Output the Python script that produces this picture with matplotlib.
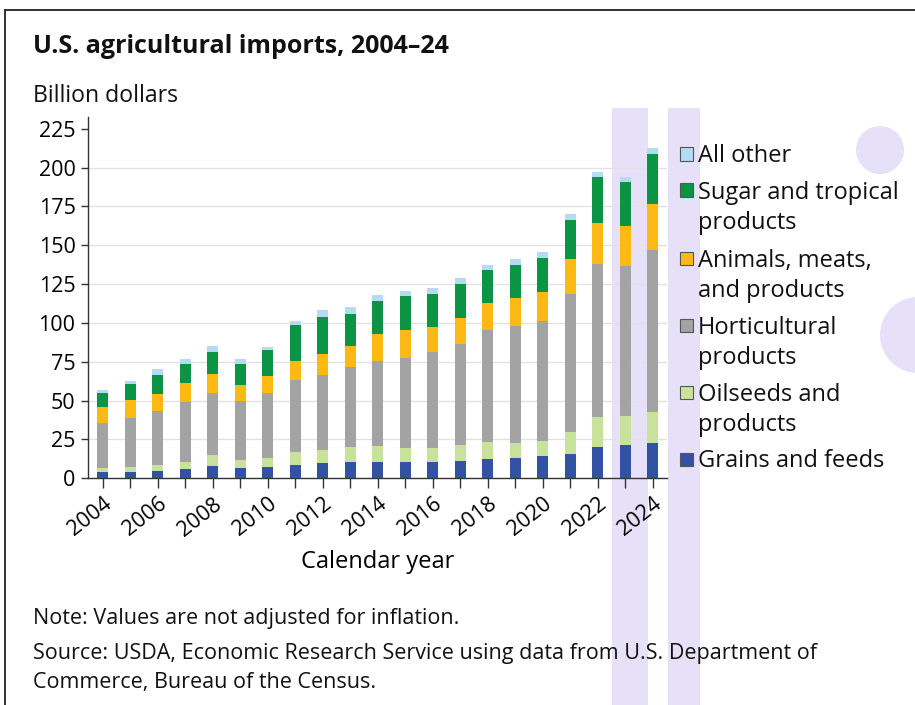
import matplotlib
matplotlib.use("Agg")
import matplotlib.pyplot as plt
from matplotlib.patches import Rectangle, Ellipse
import numpy as np

plt.rcParams['font.family'] = ['Open Sans', 'DejaVu Sans']

years = list(range(2004, 2025))
grains = [3.9, 4.1, 4.9, 5.8, 7.7, 6.9, 7.3, 8.4, 9.7, 10.7, 10.7, 10.7, 10.7, 11.4, 12.7, 12.9, 14.2, 15.9, 20.4, 21.2, 23.0]
oilseeds = [3.0, 3.2, 3.7, 4.9, 7.5, 5.1, 5.8, 8.8, 8.8, 9.3, 10.1, 8.6, 8.8, 10.1, 10.5, 9.6, 10.0, 13.9, 19.3, 18.7, 19.7]
horticultural = [28.9, 31.5, 34.7, 38.2, 39.7, 37.8, 41.8, 46.1, 48.0, 51.5, 54.5, 58.0, 61.6, 65.0, 72.5, 75.6, 77.3, 88.9, 98.5, 96.6, 104.5]
animals = [10.3, 11.6, 11.2, 12.3, 12.3, 10.1, 11.0, 12.2, 13.3, 13.5, 17.6, 18.4, 16.3, 16.5, 17.2, 18.0, 18.7, 22.5, 26.0, 26.2, 29.6]
sugar = [9.1, 10.5, 12.0, 12.2, 14.1, 13.5, 16.9, 23.0, 23.8, 20.8, 21.5, 21.7, 21.3, 22.1, 21.0, 21.5, 21.9, 25.1, 29.8, 27.9, 31.8]
other = [1.5, 1.8, 3.9, 3.4, 3.7, 3.2, 2.0, 2.8, 4.6, 4.7, 3.6, 3.0, 3.6, 3.7, 3.7, 3.6, 3.6, 3.7, 3.4, 3.6, 3.8]

series_names = ["Grains and feeds", "Oilseeds and\nproducts", "Horticultural\nproducts",
                "Animals, meats,\nand products", "Sugar and tropical\nproducts", "All other"]
series_values = [grains, oilseeds, horticultural, animals, sugar, other]
colors = ["#3452A4", "#C8E29C", "#A3A3A3", "#FDB913", "#0A9444", "#B4DBF2"]

yticks = [0, 25, 50, 75, 100, 125, 150, 175, 200, 225]

W, H = 915, 705
fig = plt.figure(figsize=(W / 100, H / 100), dpi=100)
fig.patch.set_facecolor("white")

def fx(x):
    return x / W

def fy(y):
    return 1 - y / H

# watermark-like background shapes
wm = "#E6E0F8"
for x0, x1 in [(612, 648), (668, 700)]:
    fig.patches.append(Rectangle((fx(x0), 0), (x1 - x0) / W, fy(108), transform=fig.transFigure,
                                 facecolor=wm, edgecolor="none", zorder=-5))
for cx, cy, r in [(880, 150, 24), (918, 335, 38)]:
    fig.patches.append(Ellipse((fx(cx), fy(cy)), 2 * r / W, 2 * r / H, transform=fig.transFigure,
                               facecolor=wm, edgecolor="none", zorder=-5))

# border
fig.add_artist(plt.Line2D([fx(5), fx(5)], [0, fy(10)], color="#222222", lw=1.3, transform=fig.transFigure))
fig.add_artist(plt.Line2D([fx(5), 1], [fy(10), fy(10)], color="#222222", lw=1.3, transform=fig.transFigure))

ax = fig.add_axes([fx(88), fy(478.3), (667 - 88) / W, (478.3 - 116.7) / H])
ax.set_facecolor("none")
ax.set_zorder(2)

bottom = np.zeros(len(years))
for name, vals, c in zip(series_names, series_values, colors):
    ax.bar(years, vals, bottom=bottom, width=0.4, color=c, zorder=3)
    bottom += np.array(vals)

ax.set_xlim(2003.47, 2024.52)
ax.set_ylim(0, 232.8)
ax.set_yticks(yticks)
ax.set_yticklabels([str(v) for v in yticks], fontsize=15.5)
ax.set_xticks(years)
ax.set_xticklabels([str(y) if y % 2 == 0 else "" for y in years], fontsize=15.5,
                   rotation=38, ha="right", va="top", rotation_mode="anchor")
ax.tick_params(axis="y", length=5, width=1, color="#333333", pad=4)
ax.tick_params(axis="x", length=7, width=1, color="#333333", pad=4)
ax.grid(axis="y", color="#E2E2E2", lw=1, zorder=0)
ax.yaxis.get_gridlines()[-1].set_visible(False)
for s in ["top", "right"]:
    ax.spines[s].set_visible(False)
for s in ["left", "bottom"]:
    ax.spines[s].set_color("#333333")
    ax.spines[s].set_linewidth(1)
ax.set_xlabel("Calendar year", fontsize=17, labelpad=7)

# title and texts
fig.text(fx(33), fy(53), "U.S. agricultural imports, 2004\u201324", fontsize=18, fontweight="bold",
         ha="left", va="baseline", color="#111111")
fig.text(fx(33), fy(102), "Billion dollars", fontsize=16.6, ha="left", va="baseline", color="#111111")
fig.text(fx(33), fy(624), "Note: Values are not adjusted for inflation.", fontsize=15.5,
         ha="left", va="baseline", color="#111111")
fig.text(fx(33), fy(688), "Source: USDA, Economic Research Service using data from U.S. Department of\n"
         "Commerce, Bureau of the Census.", fontsize=15.5, ha="left", va="baseline",
         linespacing=1.5, color="#111111")

# legend (manual)
leg_y = [459, 392, 325, 258, 190, 154]
for name, c, yc in zip(series_names, colors, leg_y):
    n = name.count("\n")
    fig.patches.append(Rectangle((fx(680), fy(yc + 6.5)), 13 / W, 13 / H, transform=fig.transFigure,
                                 facecolor=c, edgecolor="#555555", lw=0.8, zorder=5))
    fig.text(fx(698), fy(yc + 8.4 + n * 30.5), name, fontsize=17, ha="left", va="baseline",
             linespacing=1.35, color="#111111")

fig.savefig("out.png", dpi=100)
